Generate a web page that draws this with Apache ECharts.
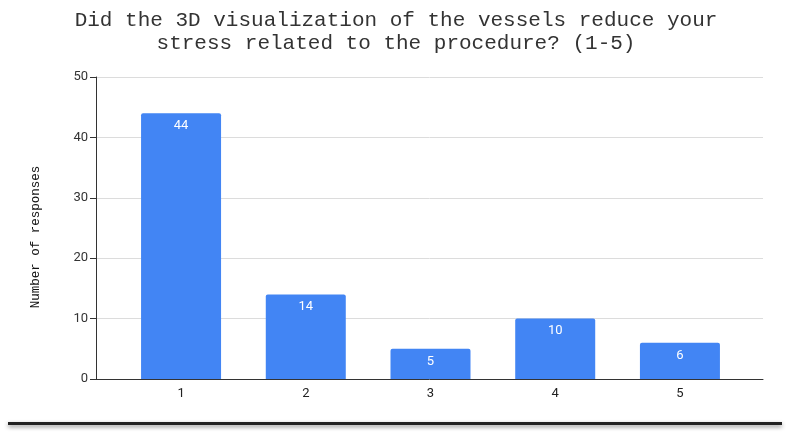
<!DOCTYPE html>
<html>
<head>
<meta charset="utf-8">
<script src="https://cdn.jsdelivr.net/npm/echarts@6/dist/echarts.min.js"></script>
<style>
  html, body { margin: 0; padding: 0; background: #fff; }
  #chart { width: 792px; height: 436px; }
</style>
</head>
<body>
<div id="chart"></div>
<script>
// ratings 1-5 and how many people picked each
const categories = [1, 2, 3, 4, 5];
const responses = [44, 14, 5, 10, 6];
const yTicks = [0, 10, 20, 30, 40, 50];

const chart = echarts.init(document.getElementById('chart'));

const barData = categories.map((c, i) => [c, responses[i]]);

chart.setOption({
  animation: false,
  title: {
    text: 'Did the 3D visualization of the vessels reduce your\nstress related to the procedure? (1-5)',
    left: 'center',
    top: 4,
    textStyle: {
      fontFamily: '"Liberation Mono", "DejaVu Sans Mono", monospace',
      fontSize: 21,
      fontWeight: 'normal',
      lineHeight: 23,
      color: '#333'
    }
  },
  grid: {
    left: 96,
    right: 29,
    top: 77,
    bottom: 57
  },
  xAxis: {
    type: 'value',
    min: 0.318,
    max: 5.666,
    splitLine: { show: false },
    axisLine: { show: true, lineStyle: { color: '#333', width: 1 } },
    axisTick: { show: false },
    axisLabel: {
      customValues: categories,
      color: '#222',
      fontFamily: 'Roboto, sans-serif',
      fontSize: 13,
      margin: 8,
      showMinLabel: true,
      showMaxLabel: true
    }
  },
  yAxis: {
    type: 'value',
    min: yTicks[0],
    max: yTicks[yTicks.length - 1],
    interval: 10,
    name: 'Number of responses',
    nameLocation: 'middle',
    nameGap: 54,
    nameTextStyle: {
      fontFamily: '"Liberation Mono", "DejaVu Sans Mono", monospace',
      fontSize: 12.5,
      fontWeight: 'normal',
      color: '#111',
      padding: [0, 18, 0, 0]
    },
    axisLine: { show: true, lineStyle: { color: '#333', width: 1 } },
    axisTick: { show: true, length: 6, lineStyle: { color: '#333' } },
    axisLabel: {
      color: '#333',
      fontFamily: 'Roboto, sans-serif',
      fontSize: 13,
      margin: 8
    },
    splitLine: { lineStyle: { color: '#dcdcdc', width: 1 } }
  },
  series: [{
    type: 'bar',
    data: barData,
    barWidth: 80,
    itemStyle: {
      color: '#4285f4',
      borderRadius: [2, 2, 0, 0]
    },
    label: {
      show: true,
      position: 'insideTop',
      distance: 6,
      color: '#fff',
      fontFamily: 'Roboto, sans-serif',
      fontSize: 13
    }
  }],
  graphic: [{
    type: 'rect',
    shape: { x: 8, y: 422, width: 774, height: 3 },
    style: {
      fill: '#222',
      shadowBlur: 4,
      shadowOffsetY: 2,
      shadowColor: 'rgba(0,0,0,0.45)'
    }
  }]
});
</script>
</body>
</html>
